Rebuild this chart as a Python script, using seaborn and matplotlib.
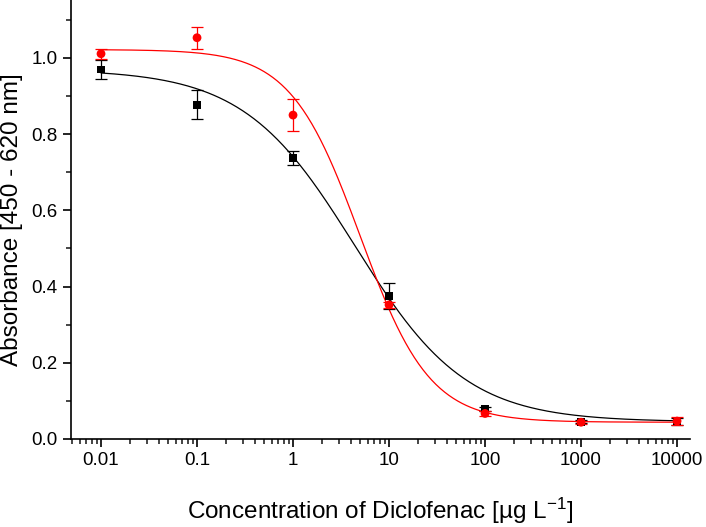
import numpy as np
import pandas as pd
import matplotlib
matplotlib.use("Agg")
import matplotlib.pyplot as plt
from matplotlib.ticker import FixedLocator, LogLocator, MultipleLocator, NullFormatter
import seaborn as sns

#%% data
conc = [0.01, 0.1, 1, 10, 100, 1000, 10000]

black_abs = [0.970, 0.877, 0.738, 0.375, 0.079, 0.045, 0.046]
black_err = [0.025, 0.038, 0.018, 0.034, 0.006, 0.004, 0.008]

red_abs = [1.011, 1.053, 0.850, 0.352, 0.067, 0.044, 0.047]
red_err = [0.013, 0.029, 0.043, 0.008, 0.007, 0.004, 0.010]

# logistic fit parameters (A1 top, A2 bottom, x0 centre, p slope)
black_fit = [0.970, 0.045, 4.4, 0.75]
red_fit = [1.022, 0.044, 5.0, 1.20]

xtick_vals = [0.01, 0.1, 1, 10, 100, 1000, 10000]
xtick_labels = ["0.01", "0.1", "1", "10", "100", "1000", "10000"]

#%% plot
sns.set_theme(style="ticks")
plt.rcParams["font.family"] = ["Liberation Sans", "DejaVu Sans"]
plt.rcParams["mathtext.fontset"] = "custom"
plt.rcParams["mathtext.rm"] = "Liberation Sans"
plt.rcParams["mathtext.it"] = "Liberation Sans:italic"


def logistic(x, params):
    a1, a2, x0, p = params
    return a2 + (a1 - a2) / (1 + (x / x0) ** p)


fig = plt.figure(figsize=(7.06, 5.27), dpi=100)
ax = fig.add_axes([0.1006, 0.167, 0.877, 0.833])

x_curve = np.logspace(-2, 4, 400)
curves = pd.DataFrame({
    "x": np.concatenate([x_curve, x_curve]),
    "y": np.concatenate([logistic(x_curve, black_fit), logistic(x_curve, red_fit)]),
    "series": ["black"] * len(x_curve) + ["red"] * len(x_curve),
})
sns.lineplot(data=curves, x="x", y="y", hue="series",
             palette={"black": "#000000", "red": "#ff0000"},
             linewidth=0.9, legend=False, ax=ax, zorder=2)

ax.errorbar(conc, black_abs, yerr=black_err, fmt="none", ecolor="#000000",
            elinewidth=0.9, capsize=4, capthick=0.9, zorder=3)
ax.errorbar(conc, red_abs, yerr=red_err, fmt="none", ecolor="#ff0000",
            elinewidth=0.9, capsize=4, capthick=0.9, zorder=3)

sns.scatterplot(x=conc, y=black_abs, marker="s", color="#000000", s=30,
                edgecolor="none", ax=ax, zorder=4)
sns.scatterplot(x=conc, y=red_abs, marker="o", color="#ff0000", s=40,
                edgecolor="none", ax=ax, zorder=4)

ax.set_xscale("log")
ax.set_xlim(0.00487, 13700)
ax.set_ylim(0, 1.152)

ax.xaxis.set_major_locator(FixedLocator(xtick_vals))
ax.set_xticklabels(xtick_labels)
ax.xaxis.set_minor_locator(LogLocator(base=10, subs=np.arange(2, 10), numticks=20))
ax.xaxis.set_minor_formatter(NullFormatter())

ax.yaxis.set_major_locator(MultipleLocator(0.2))
ax.yaxis.set_minor_locator(MultipleLocator(0.1))
ax.yaxis.set_major_formatter(plt.FuncFormatter(lambda v, _: f"{v:.1f}"))

ax.tick_params(axis="both", which="major", direction="out", length=6, width=1.2,
               labelsize=13.5, colors="#000000")
ax.tick_params(axis="both", which="minor", direction="out", length=3.5, width=1.2)
for side in ["left", "bottom"]:
    ax.spines[side].set_linewidth(1.2)
    ax.spines[side].set_color("#000000")
sns.despine(ax=ax)

ax.set_xlabel(r"Concentration of Diclofenac [µg L$^{-1}$]", fontsize=17.5,
              labelpad=19, color="#000000")
ax.set_ylabel("Absorbance [450 - 620 nm]", fontsize=17.5, labelpad=6,
              color="#000000")

fig.savefig("out.png", dpi=100)
